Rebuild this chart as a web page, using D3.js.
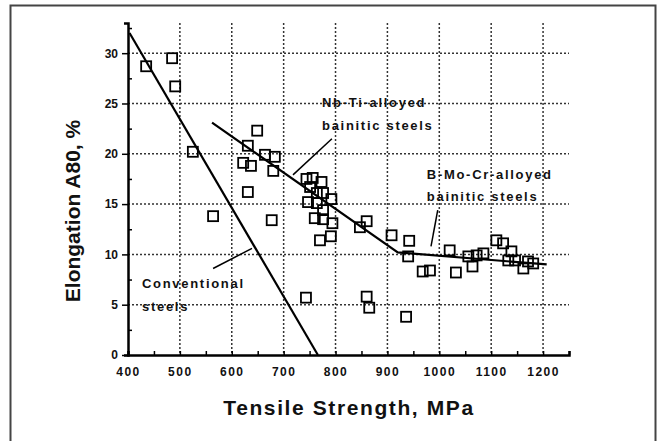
<!DOCTYPE html>
<html>
<head>
<meta charset="utf-8">
<script src="https://cdnjs.cloudflare.com/ajax/libs/d3/7.8.5/d3.min.js"></script>
<style>
  body { margin: 0; background: #fff; }
  text { font-family: "Liberation Sans", Arial, sans-serif; fill: #111; }
</style>
</head>
<body>
<div id="chart"></div>
<script>
// conventional steels
var convStrength = [435, 485, 491, 525, 564, 677, 743];
var convElong = [28.7, 29.5, 26.7, 20.2, 13.8, 13.4, 5.7];

// Nb-Ti-alloyed bainitic steels
var nbtiStrength = [622, 631, 637, 631, 649, 664, 683, 680,
    744, 756, 773, 751, 764, 776, 792, 747, 764, 776, 760, 776, 794, 770, 791,
    847, 860, 908, 860, 865, 936];
var nbtiElong = [19.1, 20.8, 18.8, 16.2, 22.3, 19.9, 19.7, 18.3,
    17.5, 17.6, 17.2, 16.7, 16.1, 16.1, 15.5, 15.2, 15.1, 14.4, 13.6, 13.5, 13.1, 11.4, 11.8,
    12.7, 13.3, 11.9, 5.8, 4.7, 3.8];

// B-Mo-Cr-alloyed bainitic steels
var bmoStrength = [942, 940, 968, 982, 1020, 1032, 1056, 1064, 1072, 1085,
    1110, 1123, 1139, 1133, 1146, 1162, 1171, 1181];
var bmoElong = [11.35, 9.8, 8.3, 8.4, 10.4, 8.2, 9.8, 8.8, 9.9, 10.1,
    11.4, 11.1, 10.3, 9.4, 9.4, 8.6, 9.3, 9.1];

// trend lines
var convLineX = [403, 766];
var convLineY = [32, 0];
var bainLineX = [562, 920, 1207];
var bainLineY = [23.1, 10.2, 9.0];

var xTicks = [400, 500, 600, 700, 800, 900, 1000, 1100, 1200];
var yTicks = [0, 5, 10, 15, 20, 25, 30];

var width = 660;
var height = 441;

var svg = d3.select("#chart").append("svg")
    .attr("width", width)
    .attr("height", height);

// outer frame
svg.append("rect")
    .attr("x", 10.5)
    .attr("y", 5.5)
    .attr("width", 645)
    .attr("height", 450)
    .attr("fill", "none")
    .attr("stroke", "#444")
    .attr("stroke-width", 2);

var x = d3.scaleLinear().domain([400, 1250]).range([128, 569]);
var y = d3.scaleLinear().domain([0, 33]).range([355, 23]);

// dotted grid
svg.append("g").selectAll("line")
    .data(xTicks.slice(1))
    .enter().append("line")
    .attr("x1", function(d) { return x(d); })
    .attr("x2", function(d) { return x(d); })
    .attr("y1", y(33))
    .attr("y2", y(0))
    .attr("stroke", "#333")
    .attr("stroke-width", 1.5)
    .attr("stroke-dasharray", "2,2");

svg.append("g").selectAll("line")
    .data(yTicks.slice(1))
    .enter().append("line")
    .attr("x1", x(400))
    .attr("x2", x(1250))
    .attr("y1", function(d) { return y(d); })
    .attr("y2", function(d) { return y(d); })
    .attr("stroke", "#333")
    .attr("stroke-width", 1.5)
    .attr("stroke-dasharray", "2,2");

// axes
var xAxis = d3.axisBottom(x)
    .tickValues(d3.range(400, 1251, 50))
    .tickSize(-4)
    .tickFormat(function(d) { return xTicks.indexOf(d) >= 0 ? d : ""; });

var gx = svg.append("g")
    .attr("transform", "translate(0," + y(0) + ")")
    .call(xAxis);
gx.select(".domain").attr("stroke", "#000").attr("stroke-width", 2.5);
gx.selectAll(".tick line").attr("stroke", "#000").attr("stroke-width", 1.5);
gx.selectAll(".tick text")
    .attr("y", 12)
    .style("font-size", "12px")
    .style("font-weight", "bold")
    .style("letter-spacing", "1.5px");

var yAxis = d3.axisLeft(y)
    .tickValues(d3.range(0, 33, 2.5))
    .tickSize(4)
    .tickFormat(function(d) { return yTicks.indexOf(d) >= 0 ? d : ""; });

var gy = svg.append("g")
    .attr("transform", "translate(" + x(400) + ",0)")
    .call(yAxis);
gy.select(".domain").attr("stroke", "#000").attr("stroke-width", 2.5);
gy.selectAll(".tick line").attr("stroke", "#000").attr("stroke-width", 1.5)
    .attr("x2", function(d) { return yTicks.indexOf(d) >= 0 ? -6 : 4; });
gy.selectAll(".tick text")
    .attr("x", -10)
    .style("font-size", "12px")
    .style("font-weight", "bold");

// axis titles
svg.append("text")
    .text("Tensile Strength, MPa")
    .attr("x", 349)
    .attr("y", 415)
    .attr("text-anchor", "middle")
    .style("font-size", "21px")
    .style("font-weight", "bold")
    .style("letter-spacing", "1.6px");

svg.append("text")
    .text("Elongation A80, %")
    .attr("transform", "translate(80,211) rotate(-90)")
    .attr("text-anchor", "middle")
    .style("font-size", "21px")
    .style("font-weight", "bold");

// trend lines
var line = d3.line()
    .x(function(d) { return x(d[0]); })
    .y(function(d) { return y(d[1]); });

svg.append("path")
    .datum(d3.zip(convLineX, convLineY))
    .attr("d", line)
    .attr("fill", "none")
    .attr("stroke", "#000")
    .attr("stroke-width", 2.2);

svg.append("path")
    .datum(d3.zip(bainLineX, bainLineY))
    .attr("d", line)
    .attr("fill", "none")
    .attr("stroke", "#000")
    .attr("stroke-width", 2.2);

// data squares
var points = d3.zip(convStrength, convElong)
    .concat(d3.zip(nbtiStrength, nbtiElong))
    .concat(d3.zip(bmoStrength, bmoElong));

svg.append("g").selectAll("rect")
    .data(points)
    .enter().append("rect")
    .attr("x", function(d) { return x(d[0]) - 5; })
    .attr("y", function(d) { return y(d[1]) - 5; })
    .attr("width", 10)
    .attr("height", 10)
    .attr("fill", "none")
    .attr("stroke", "#000")
    .attr("stroke-width", 1.8);

// annotations (positions in data units)
var labels = [
    {text: "Nb-Ti-alloyed", x: 774, y: 24.7},
    {text: "bainitic steels", x: 774, y: 22.4},
    {text: "B-Mo-Cr-alloyed", x: 976, y: 17.5},
    {text: "bainitic steels", x: 976, y: 15.3},
    {text: "Conventional", x: 427, y: 6.65},
    {text: "steels", x: 427, y: 4.37}
];

svg.append("g").selectAll("text")
    .data(labels)
    .enter().append("text")
    .text(function(d) { return d.text; })
    .attr("x", function(d) { return x(d.x); })
    .attr("y", function(d) { return y(d.y); })
    .style("font-size", "13px")
    .style("font-weight", "bold")
    .style("letter-spacing", "1.7px");

var leaders = [
    [[793, 21.5], [718, 17.9]],
    [[997, 14.4], [984, 10.8]],
    [[639, 10.6], [564, 8.6]]
];

svg.append("g").selectAll("path")
    .data(leaders)
    .enter().append("path")
    .attr("d", line)
    .attr("fill", "none")
    .attr("stroke", "#000")
    .attr("stroke-width", 1.5);
</script>
</body>
</html>
